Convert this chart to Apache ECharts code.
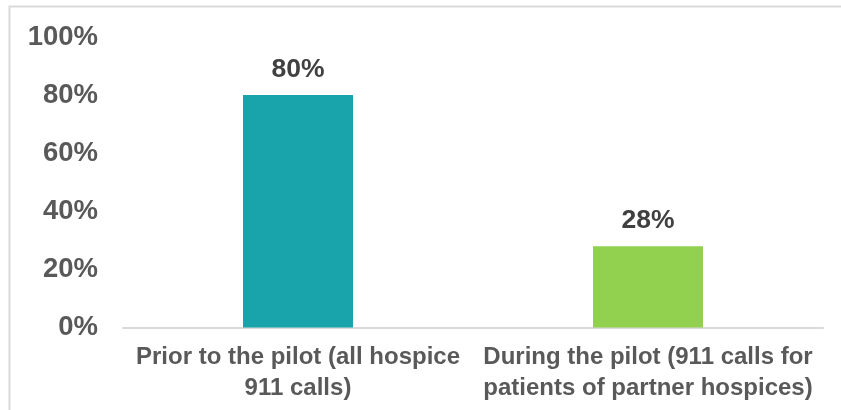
<!DOCTYPE html>
<html><head><meta charset="utf-8">
<script src="https://cdn.jsdelivr.net/npm/echarts@6/dist/echarts.min.js"></script>
<style>html,body{margin:0;padding:0;background:#fff}#c{width:841px;height:410px}</style>
</head><body><div id="c"></div>
<script>
const categories = ['Prior to the pilot (all hospice\n911 calls)', 'During the pilot (911 calls for\npatients of partner hospices)'];
const values = [80, 28];
const barColors = ['#19A3AB', '#92D050'];
const yTicks = [0, 20, 40, 60, 80, 100];

const chart = echarts.init(document.getElementById('c'), null, {renderer: 'canvas'});
chart.setOption({
  animation: false,
  backgroundColor: '#fff',
  graphic: [{
    type: 'rect', shape: {x: 9.5, y: 6.5, width: 900, height: 500},
    style: {fill: 'none', stroke: '#d9d9d9', lineWidth: 2}, silent: true, z: 0
  }],
  grid: {left: 123, right: 18, top: 37, bottom: 82.5, containLabel: false},
  xAxis: {
    type: 'category', data: categories,
    axisLine: {show: true, lineStyle: {color: '#d9d9d9', width: 2}},
    axisTick: {show: false},
    axisLabel: {color: '#595959', fontFamily: 'Liberation Sans, Arial', fontWeight: 'bold', fontSize: 24, lineHeight: 31, margin: 14, interval: 0}
  },
  yAxis: {
    type: 'value', min: 0, max: 100, interval: 20,
    splitLine: {show: false},
    axisLine: {show: false}, axisTick: {show: false},
    axisLabel: {color: '#595959', fontFamily: 'Liberation Sans, Arial', fontWeight: 'bold', fontSize: 27.5, margin: 25,
      formatter: v => yTicks.includes(v) ? v + '%' : ''}
  },
  series: [{
    type: 'bar', barWidth: 110,
    data: values.map((v, i) => ({value: v, itemStyle: {color: barColors[i]}})),
    label: {show: true, position: 'top', distance: 12, color: '#404040', fontFamily: 'Liberation Sans, Arial', fontWeight: 'bold', fontSize: 26.5, formatter: p => p.value + '%'}
  }]
});
</script></body></html>
